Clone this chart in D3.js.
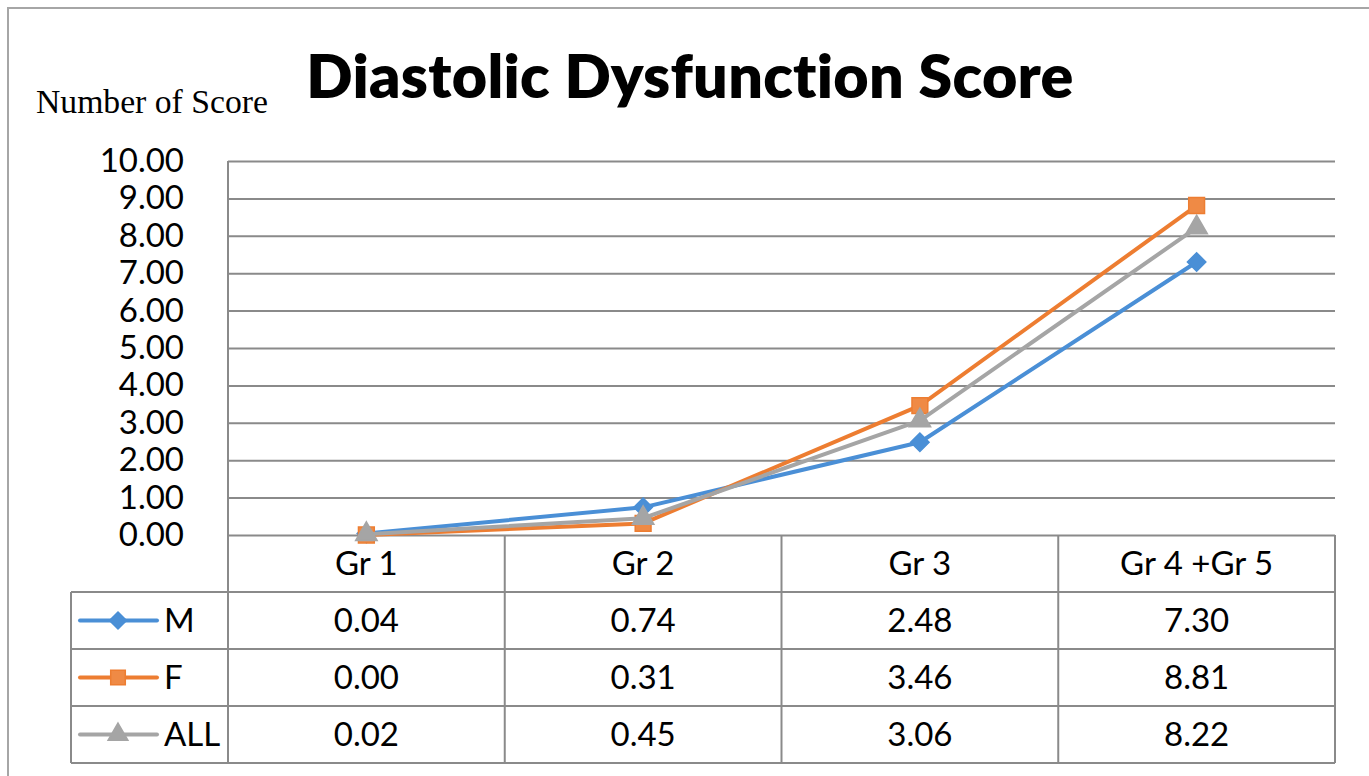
<!DOCTYPE html>
<html>
<head>
<meta charset="utf-8">
<script src="https://cdn.jsdelivr.net/npm/d3@7"></script>
<style>
  html, body { margin: 0; padding: 0; background: #fff; }
  svg { display: block; }
  text { font-family: Lato, "Open Sans", sans-serif; fill: #000; font-variant-ligatures: none; font-feature-settings: "liga" 0, "clig" 0; }
</style>
</head>
<body>
<div id="chart"></div>
<script>
// data
const categories = ['Gr 1', 'Gr 2', 'Gr 3', 'Gr 4 +Gr 5'];
const seriesNames = ['M', 'F', 'ALL'];
const mValues = [0.04, 0.74, 2.48, 7.30];
const fValues = [0.00, 0.31, 3.46, 8.81];
const allValues = [0.02, 0.45, 3.06, 8.22];
const yTicks = [0, 1, 2, 3, 4, 5, 6, 7, 8, 9, 10];

const seriesValues = [mValues, fValues, allValues];
const COLOR = { M: '#4a8fd6', F: '#ed7d31', ALL: '#a5a5a5' };
const MARKER_FILL = { M: '#4a8fd6', F: '#ef8a45', ALL: '#a5a5a5' };
const GRID = '#8a8a8a';
const FONT = 33;

const W = 1369, H = 776;
const plot = { left: 228, right: 1335, top: 161, bottom: 535 };
const rowH = 57;

const svg = d3.select('#chart').append('svg')
  .attr('width', W)
  .attr('height', H);

// outer chart border (right/bottom sit outside the picture)
svg.append('rect')
  .attr('x', 8).attr('y', 8)
  .attr('width', W + 20).attr('height', H + 20)
  .attr('fill', 'none')
  .attr('stroke', '#a6a6a6')
  .attr('stroke-width', 2);

const x = d3.scaleBand()
  .domain(categories)
  .range([plot.left, plot.right]);

const y = d3.scaleLinear()
  .domain([0, 10])
  .range([plot.bottom, plot.top]);

// marker shapes: diamond is a square turned 45deg like Excel's
function marker(sel, name, scale = 1) {
  if (name === 'M') {
    sel.attr('d', d3.symbol().type(d3.symbolSquare).size(170 * scale)())
      .attr('transform', function () { return d3.select(this).attr('transform') + ' rotate(45)'; });
  } else if (name === 'F') {
    sel.attr('d', d3.symbol().type(d3.symbolSquare).size(250 * scale)());
  } else {
    sel.attr('d', d3.symbol().type(d3.symbolTriangle).size(200 * scale)());
  }
  sel.attr('fill', MARKER_FILL[name])
    .attr('stroke', COLOR[name])
    .attr('stroke-width', 1.5);
}

// fit a text element to a target width
function fitWidth(sel, target) {
  const w = sel.node().getComputedTextLength();
  const fs = parseFloat(sel.attr('font-size'));
  sel.attr('font-size', fs * target / w);
}

// title (tiny letter-spacing keeps the "ti" ligature off)
const title = svg.append('text')
  .attr('x', (305 + 1075) / 2)
  .attr('y', 98)
  .attr('text-anchor', 'middle')
  .attr('font-weight', 800)
  .attr('font-size', 58)
  .style('letter-spacing', '0.3px')
  .text('Diastolic Dysfunction Score');
fitWidth(title, 768);

// y axis title
const yTitle = svg.append('text')
  .attr('x', 36)
  .attr('y', 113)
  .attr('font-size', 28)
  .style('font-family', '"Liberation Serif", "Times New Roman", serif')
  .text('Number of Score');
fitWidth(yTitle, 232);

// gridlines
svg.append('g')
  .attr('transform', `translate(${plot.left},0)`)
  .call(d3.axisLeft(y).tickValues(yTicks).tickSize(-(plot.right - plot.left)).tickFormat(''))
  .call(g => g.select('.domain').remove())
  .call(g => g.selectAll('line').attr('stroke', GRID).attr('stroke-width', 2));

// y tick labels
svg.append('g')
  .attr('transform', `translate(184,0)`)
  .call(d3.axisLeft(y).tickValues(yTicks).tickSize(0).tickPadding(0).tickFormat(d3.format('.2f')))
  .call(g => g.select('.domain').remove())
  .call(g => g.selectAll('text')
    .attr('font-size', FONT)
    .attr('fill', '#000')
    .style('font-family', 'Lato, "Open Sans", sans-serif'));

// left axis line through plot and table
svg.append('line')
  .attr('x1', plot.left).attr('x2', plot.left)
  .attr('y1', plot.top).attr('y2', plot.bottom + rowH * 4)
  .attr('stroke', GRID).attr('stroke-width', 2);

// data table grid
const tableTop = plot.bottom;
const tableBottom = plot.bottom + rowH * 4;
const legendLeft = 71;
const tbl = svg.append('g').attr('stroke', GRID).attr('stroke-width', 2);

d3.range(1, 5).forEach(i => {
  tbl.append('line')
    .attr('x1', legendLeft).attr('x2', plot.right)
    .attr('y1', tableTop + rowH * i).attr('y2', tableTop + rowH * i);
});
categories.forEach(c => {
  tbl.append('line')
    .attr('x1', x(c) + x.bandwidth()).attr('x2', x(c) + x.bandwidth())
    .attr('y1', tableTop).attr('y2', tableBottom);
});
tbl.append('line')
  .attr('x1', legendLeft).attr('x2', legendLeft)
  .attr('y1', tableTop + rowH).attr('y2', tableBottom);

// header labels
svg.append('g').selectAll('text')
  .data(categories)
  .join('text')
  .attr('x', d => x(d) + x.bandwidth() / 2)
  .attr('y', tableTop + rowH / 2)
  .attr('dy', '0.36em')
  .attr('text-anchor', 'middle')
  .attr('font-size', FONT)
  .text(d => d);

// value rows + legend keys
seriesNames.forEach((name, si) => {
  const cy = tableTop + rowH * (si + 1) + rowH / 2;
  const row = svg.append('g');

  row.selectAll('text.val')
    .data(seriesValues[si])
    .join('text')
    .attr('class', 'val')
    .attr('x', (d, i) => x(categories[i]) + x.bandwidth() / 2)
    .attr('y', cy)
    .attr('dy', '0.36em')
    .attr('text-anchor', 'middle')
    .attr('font-size', FONT)
    .text(d => d3.format('.2f')(d));

  row.append('line')
    .attr('x1', 80).attr('x2', 157)
    .attr('y1', cy).attr('y2', cy)
    .attr('stroke', COLOR[name])
    .attr('stroke-width', 4)
    .attr('stroke-linecap', 'round');
  row.append('path')
    .attr('transform', `translate(118,${cy})`)
    .call(marker, name, 0.85);
  row.append('text')
    .attr('x', 164)
    .attr('y', cy)
    .attr('dy', '0.36em')
    .attr('font-size', FONT)
    .text(name);
});

// series lines and markers
const line = d3.line()
  .x((d, i) => x(categories[i]) + x.bandwidth() / 2)
  .y(d => y(d));

seriesNames.forEach((name, si) => {
  const vals = seriesValues[si];
  svg.append('path')
    .datum(vals)
    .attr('fill', 'none')
    .attr('stroke', COLOR[name])
    .attr('stroke-width', 4)
    .attr('stroke-linejoin', 'round')
    .attr('d', line);

  svg.append('g').selectAll('path')
    .data(vals)
    .join('path')
    .attr('transform', (d, i) => `translate(${x(categories[i]) + x.bandwidth() / 2},${y(d)})`)
    .each(function () { d3.select(this).call(marker, name); });
});
</script>
</body>
</html>
